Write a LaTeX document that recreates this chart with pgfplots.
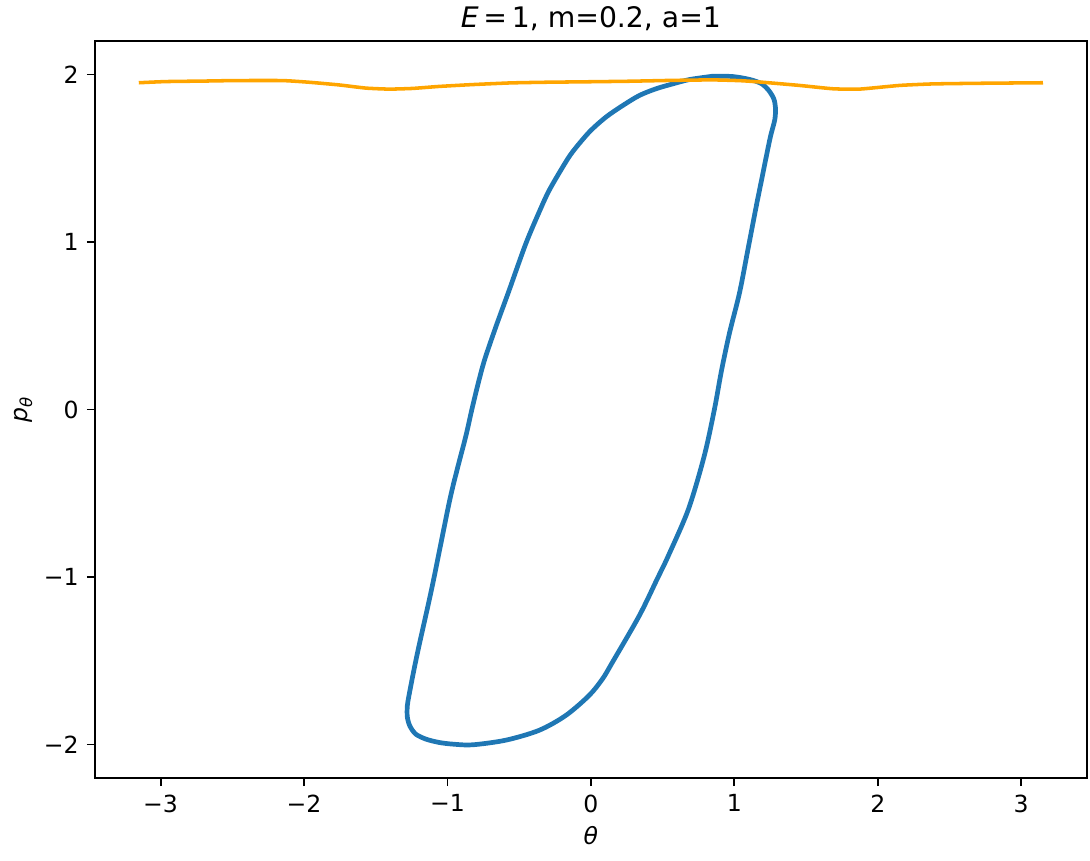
\documentclass[border=0pt]{standalone}
\usepackage{fontspec}
\setmainfont{DejaVu Sans}
\usepackage{pgfplots}
\pgfplotsset{compat=1.18}
\definecolor{mplblue}{HTML}{1F77B4}
\definecolor{mplorange}{HTML}{FFA500}

\begin{document}
\begin{tikzpicture}
\begin{axis}[
    scale only axis,
    width=5.821in, height=4.327in,
    xmin=-3.456, xmax=3.456,
    ymin=-2.2, ymax=2.2,
    axis line style={line width=0.8pt},
    tick align=outside,
    tick pos=left,
    major tick length=3.5pt,
    every tick/.style={black, line width=0.8pt},
    xtick={-3,-2,-1,0,1,2,3},
    xticklabels={−3,−2,−1,0,1,2,3},
    ytick={-2,-1,0,1,2},
    yticklabels={−2,−1,0,1,2},
    tick label style={font=\fontsize{10}{12}\selectfont},
    xlabel={\textit{θ}},
    ylabel={\textit{p}\textsubscript{\textit{θ}}},
    label style={font=\fontsize{10}{12}\selectfont},
    xlabel style={yshift=1pt},
    ylabel style={yshift=-2pt},
    title={\textit{E}\,=\,1, m=0.2, a=1},
    title style={font=\fontsize{12}{14}\selectfont, yshift=-5pt},
]
% closed orbit
\addplot[mplblue, line width=2pt, line join=round, smooth, tension=0.5] coordinates {
    (0.849,1.990) (0.989,1.988) (1.110,1.970) (1.190,1.945) (1.240,1.905)
    (1.275,1.855) (1.287,1.800) (1.282,1.730) (1.252,1.630) (1.218,1.490)
    (1.185,1.350) (1.152,1.210) (1.094,0.952) (1.036,0.696) (0.966,0.456)
    (0.910,0.230) (0.861,0.000) (0.790,-0.278) (0.680,-0.595) (0.540,-0.873)
    (0.462,-1.012) (0.338,-1.230) (0.151,-1.508) (0.082,-1.607) (-0.011,-1.706)
    (-0.174,-1.826) (-0.360,-1.915) (-0.592,-1.974) (-0.826,-2.002) (-0.960,-1.998)
    (-1.058,-1.988) (-1.150,-1.968) (-1.221,-1.938) (-1.262,-1.890) (-1.280,-1.835)
    (-1.280,-1.770) (-1.268,-1.706) (-1.235,-1.560) (-1.198,-1.409) (-1.105,-1.050)
    (-0.988,-0.556) (-0.930,-0.350) (-0.872,-0.159) (-0.830,0.000) (-0.785,0.159)
    (-0.740,0.300) (-0.660,0.500) (-0.575,0.700) (-0.453,0.992) (-0.350,1.200)
    (-0.290,1.310) (-0.195,1.450) (-0.128,1.538) (-0.011,1.657) (0.105,1.746)
    (0.222,1.815) (0.338,1.875) (0.454,1.915) (0.570,1.944) (0.687,1.970)
    (0.849,1.990)
};
% rotating orbit
\addplot[mplorange, line width=1.5pt, smooth, tension=0.3] coordinates {
    (-3.152,1.951) (-2.965,1.958) (-2.700,1.961) (-2.477,1.964) (-2.151,1.964)
    (-1.965,1.954) (-1.756,1.938) (-1.569,1.919) (-1.407,1.913) (-1.244,1.917)
    (-1.058,1.929) (-0.826,1.940) (-0.560,1.950) (-0.313,1.954) (0.000,1.957)
    (0.268,1.960) (0.560,1.965) (0.849,1.968) (1.050,1.963) (1.198,1.954)
    (1.454,1.935) (1.687,1.915) (1.873,1.913) (2.152,1.935) (2.385,1.944)
    (2.733,1.948) (3.152,1.951)
};
\end{axis}
\pgfresetboundingbox
\useasboundingbox ([xshift=-0.559in, yshift=-0.487in]current axis.south west) rectangle ++(6.4in,5.055in);
\end{tikzpicture}
\end{document}
